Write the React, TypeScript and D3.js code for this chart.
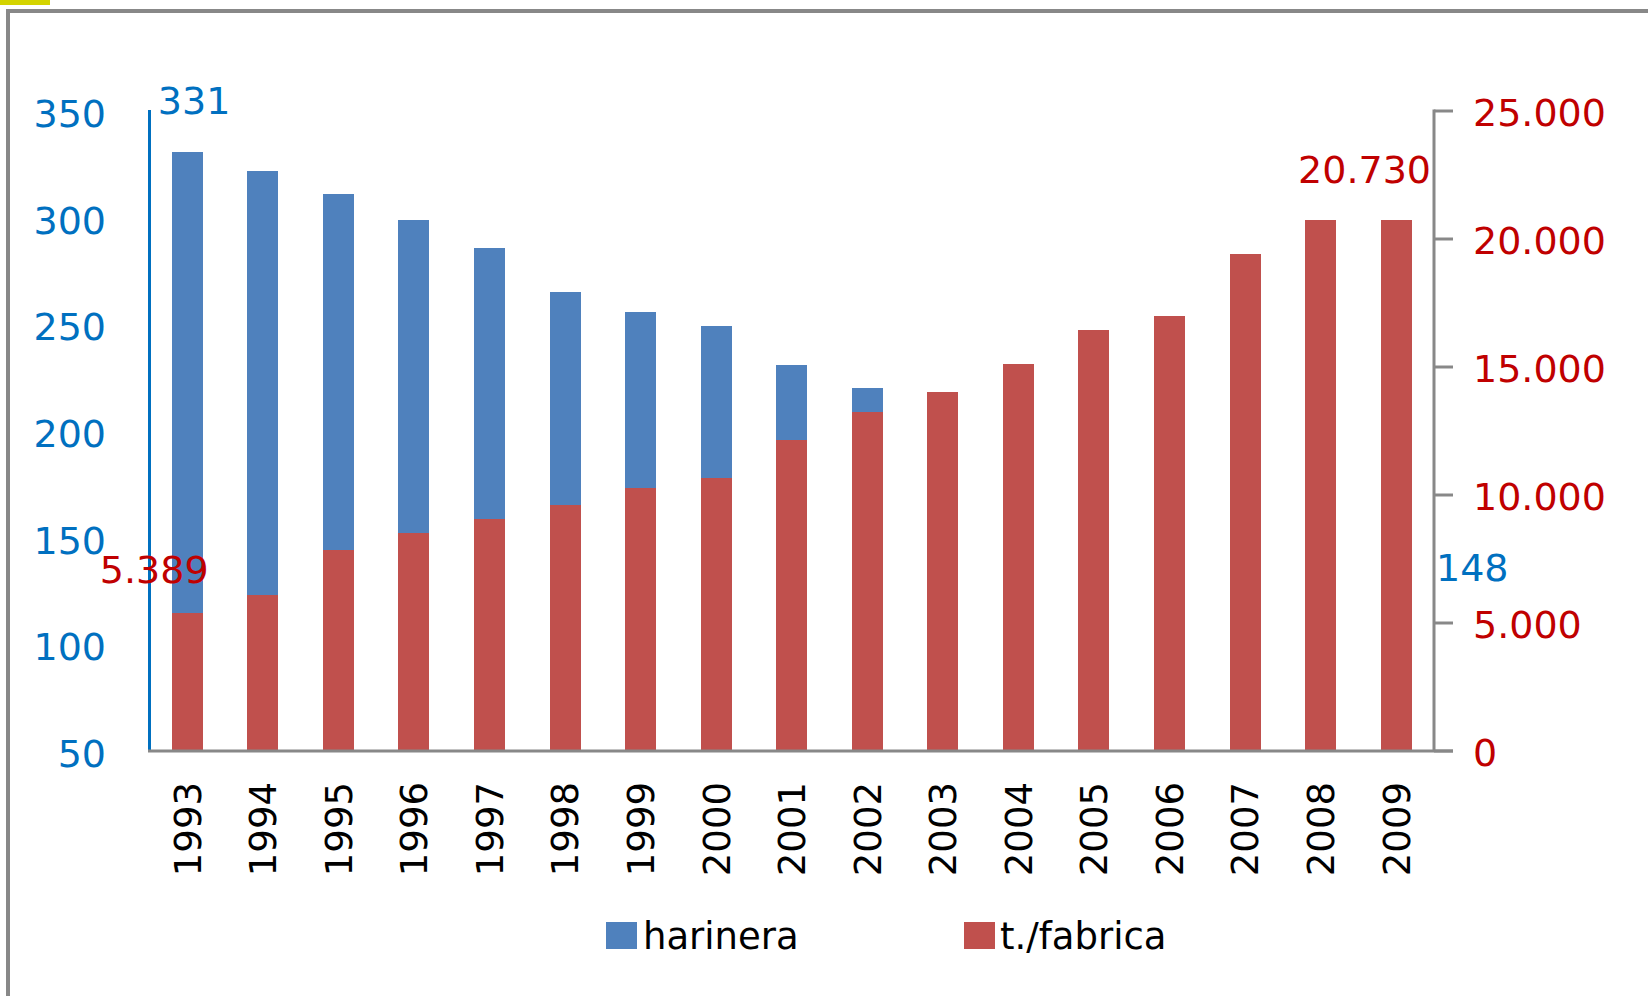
import * as d3 from "d3";

const years = [
  "1993", "1994", "1995", "1996", "1997", "1998", "1999", "2000", "2001",
  "2002", "2003", "2004", "2005", "2006", "2007", "2008", "2009",
];
// harinera (left axis); 2003-2009 sit behind the red bars, estimated
const harinera = [331, 322, 311, 299, 286, 265, 256, 249, 231, 220, 210, 198, 187, 176, 165, 156, 148];
// t./fabrica (right axis)
const fabrica = [5389, 6100, 7850, 8500, 9060, 9600, 10280, 10660, 12150, 13240, 14020, 15100, 16440, 17000, 19410, 20730, 20730];
const leftTicks = [50, 100, 150, 200, 250, 300, 350];
const rightTicks = [0, 5000, 10000, 15000, 20000, 25000];
const seriesNames = ["harinera", "t./fabrica"];

const BLUE = "#4F81BD";
const RED = "#C0504D";
const BLUE_TXT = "#0070C0";
const RED_TXT = "#C00000";
const GRAY = "#888888";
const FONT = "DejaVu Sans, Verdana, sans-serif";

const fmt = (v: number) => d3.format(",")(v).replace(/,/g, ".");

export default function App() {
  const width = 1648;
  const height = 996;
  const plot = { left: 149.5, right: 1434, top: 111, bottom: 751 };

  const x = d3
    .scaleBand<string>()
    .domain(years)
    .range([plot.left, plot.right])
    .paddingInner(0.59)
    .paddingOuter(0.295);
  const yL = d3.scaleLinear().domain([50, 350]).range([plot.bottom, plot.top]);
  const yR = d3.scaleLinear().domain([0, 25000]).range([plot.bottom, plot.top]);
  const bw = x.bandwidth();

  return (
    <svg
      width={width}
      height={height}
      style={{ position: "fixed", left: 0, top: 0, background: "#fff" }}
      fontFamily={FONT}
    >
      <rect x={0} y={0} width={width} height={height} fill="#fff" />
      <rect x={0} y={0} width={50} height={5} fill="#D4D400" />
      <rect x={8} y={11} width={1700} height={1100} fill="none" stroke={GRAY} strokeWidth={4} />

      {/* blue bars */}
      <g shapeRendering="crispEdges">
        {years.map((yr, i) => (
          <rect
            key={"b" + yr}
            x={x(yr)}
            y={yL(harinera[i])}
            width={bw}
            height={plot.bottom - yL(harinera[i])}
            fill={BLUE}
          />
        ))}
      </g>
      {/* red bars */}
      <g shapeRendering="crispEdges">
        {years.map((yr, i) => (
          <rect
            key={"r" + yr}
            x={x(yr)}
            y={yR(fabrica[i])}
            width={bw}
            height={plot.bottom - yR(fabrica[i])}
            fill={RED}
          />
        ))}
      </g>

      {/* axes */}
      <line x1={plot.left} x2={plot.left} y1={plot.top - 1} y2={plot.bottom} stroke={BLUE_TXT} strokeWidth={3} />
      <line x1={plot.left - 1.5} x2={plot.right + 19} y1={plot.bottom} y2={plot.bottom} stroke={GRAY} strokeWidth={3} />
      <line x1={plot.right} x2={plot.right} y1={plot.top - 1.5} y2={plot.bottom} stroke={GRAY} strokeWidth={3} />
      {rightTicks.map((t) => (
        <g key={"rt" + t}>
          <line x1={plot.right} x2={plot.right + 19} y1={yR(t)} y2={yR(t)} stroke={GRAY} strokeWidth={3} />
          <text x={plot.right + 39} y={yR(t) + 15} fontSize={38} fill={RED_TXT}>
            {fmt(t)}
          </text>
        </g>
      ))}
      {leftTicks.map((t) => (
        <text key={"lt" + t} x={106} y={yL(t) + 16} fontSize={38} fill={BLUE_TXT} textAnchor="end">
          {t}
        </text>
      ))}

      {/* x labels */}
      {years.map((yr) => {
        const cx = (x(yr) as number) + bw / 2;
        return (
          <text
            key={"x" + yr}
            transform={`translate(${cx},${plot.bottom + 31}) rotate(-90)`}
            dy="0.36em"
            fontSize={37}
            textAnchor="end"
            fill="#000"
          >
            {yr}
          </text>
        );
      })}

      {/* data labels */}
      <text x={(x("1993") as number) - 14} y={yL(harinera[0]) - 38} fontSize={38} fill={BLUE_TXT}>
        {harinera[0]}
      </text>
      <text x={(x("1993") as number) - 72} y={yR(fabrica[0]) - 30} fontSize={38} fill={RED_TXT}>
        {fmt(fabrica[0])}
      </text>
      <text x={plot.right - 3} y={yR(fabrica[16]) - 37} fontSize={38} fill={RED_TXT} textAnchor="end">
        {fmt(fabrica[16])}
      </text>
      <text x={plot.right + 2} y={581} fontSize={38} fill={BLUE_TXT}>
        {harinera[16]}
      </text>

      {/* legend */}
      <rect x={606} y={922} width={31} height={27} fill={BLUE} />
      <text x={643} y={949} fontSize={37} fill="#000">
        {seriesNames[0]}
      </text>
      <rect x={964} y={922} width={31} height={27} fill={RED} />
      <text x={1000} y={949} fontSize={37} fill="#000">
        {seriesNames[1]}
      </text>
    </svg>
  );
}
